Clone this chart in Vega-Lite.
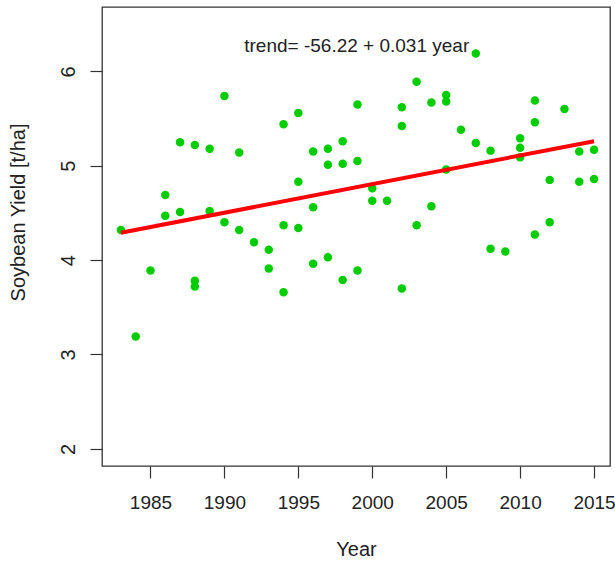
{
  "$schema": "https://vega.github.io/schema/vega-lite/v6.json",
  "width": 508,
  "height": 459,
  "autosize": "none",
  "padding": {"left": 102, "top": 7, "right": 5, "bottom": 100},
  "background": "white",
  "config": {
    "view": {"stroke": "#333333", "strokeWidth": 1.3},
    "font": "Liberation Sans",
    "axis": {"grid": false, "domain": false, "tickColor": "#333333", "tickWidth": 1.2, "tickSize": 12, "labelColor": "#222222", "titleColor": "#222222", "labelFontSize": 20, "titleFontSize": 20, "titleFontWeight": "normal", "labelFont": "Liberation Sans", "titleFont": "Liberation Sans"}
  },
  "datasets": {
    "pts": [
      {"year": 1983, "yield": 4.32},
      {"year": 1984, "yield": 3.19},
      {"year": 1985, "yield": 3.89},
      {"year": 1986, "yield": 4.69}, {"year": 1986, "yield": 4.47},
      {"year": 1987, "yield": 5.25}, {"year": 1987, "yield": 4.51},
      {"year": 1988, "yield": 5.22}, {"year": 1988, "yield": 3.78}, {"year": 1988, "yield": 3.72},
      {"year": 1989, "yield": 5.18}, {"year": 1989, "yield": 4.52},
      {"year": 1990, "yield": 5.74}, {"year": 1990, "yield": 4.40},
      {"year": 1991, "yield": 5.14}, {"year": 1991, "yield": 4.32},
      {"year": 1992, "yield": 4.19},
      {"year": 1993, "yield": 4.11}, {"year": 1993, "yield": 3.91},
      {"year": 1994, "yield": 5.44}, {"year": 1994, "yield": 4.37}, {"year": 1994, "yield": 3.66},
      {"year": 1995, "yield": 5.56}, {"year": 1995, "yield": 4.83}, {"year": 1995, "yield": 4.34},
      {"year": 1996, "yield": 5.15}, {"year": 1996, "yield": 4.56}, {"year": 1996, "yield": 3.96},
      {"year": 1997, "yield": 5.18}, {"year": 1997, "yield": 5.01}, {"year": 1997, "yield": 4.03},
      {"year": 1998, "yield": 5.26}, {"year": 1998, "yield": 5.02}, {"year": 1998, "yield": 3.79},
      {"year": 1999, "yield": 5.65}, {"year": 1999, "yield": 5.05}, {"year": 1999, "yield": 3.89},
      {"year": 2000, "yield": 4.76}, {"year": 2000, "yield": 4.63},
      {"year": 2001, "yield": 4.63},
      {"year": 2002, "yield": 5.62}, {"year": 2002, "yield": 5.42}, {"year": 2002, "yield": 3.70},
      {"year": 2003, "yield": 5.89}, {"year": 2003, "yield": 4.37},
      {"year": 2004, "yield": 5.67}, {"year": 2004, "yield": 4.57},
      {"year": 2005, "yield": 5.75}, {"year": 2005, "yield": 5.68}, {"year": 2005, "yield": 4.96},
      {"year": 2006, "yield": 5.38},
      {"year": 2007, "yield": 6.19}, {"year": 2007, "yield": 5.24},
      {"year": 2008, "yield": 5.16}, {"year": 2008, "yield": 4.12},
      {"year": 2009, "yield": 4.09},
      {"year": 2010, "yield": 5.29}, {"year": 2010, "yield": 5.19}, {"year": 2010, "yield": 5.09},
      {"year": 2011, "yield": 5.69}, {"year": 2011, "yield": 5.46}, {"year": 2011, "yield": 4.27},
      {"year": 2012, "yield": 4.85}, {"year": 2012, "yield": 4.40},
      {"year": 2013, "yield": 5.60},
      {"year": 2014, "yield": 5.15}, {"year": 2014, "yield": 4.83},
      {"year": 2015, "yield": 5.17}, {"year": 2015, "yield": 4.86}
    ],
    "trend": [
      {"year": 1983, "yield": 4.29},
      {"year": 2015, "yield": 5.26}
    ],
    "label": [
      {"year": 1998.95, "yield": 6.27, "text": "trend= -56.22 + 0.031 year"}
    ]
  },
  "layer": [
    {
      "data": {"name": "pts"},
      "mark": {"type": "circle", "color": "#00CD00", "opacity": 1, "size": 72},
      "encoding": {
        "x": {"field": "year", "type": "quantitative",
              "scale": {"domain": [1981.72, 2016.08], "nice": false, "zero": false},
              "axis": {"values": [1985, 1990, 1995, 2000, 2005, 2010, 2015], "format": "d", "title": "Year", "labelFontSize": 19, "labelPadding": 15, "titleBaseline": "middle", "titleY": 83}},
        "y": {"field": "yield", "type": "quantitative",
              "scale": {"domain": [1.818, 6.682], "nice": false, "zero": false},
              "axis": {"values": [2, 3, 4, 5, 6], "format": "d", "title": "Soybean Yield [t/ha]", "labelAngle": -90, "labelAlign": "center", "labelBaseline": "middle", "labelPadding": 22, "titleAngle": -90, "titleBaseline": "middle", "titleX": -84, "titleY": 205}}
      }
    },
    {
      "data": {"name": "trend"},
      "mark": {"type": "line", "color": "#FF0000", "strokeWidth": 4},
      "encoding": {
        "x": {"field": "year", "type": "quantitative"},
        "y": {"field": "yield", "type": "quantitative"}
      }
    },
    {
      "data": {"name": "label"},
      "mark": {"type": "text", "fontSize": 19, "color": "#222222", "align": "center", "baseline": "middle", "font": "Liberation Sans"},
      "encoding": {
        "x": {"field": "year", "type": "quantitative"},
        "y": {"field": "yield", "type": "quantitative"},
        "text": {"field": "text"}
      }
    }
  ]
}
